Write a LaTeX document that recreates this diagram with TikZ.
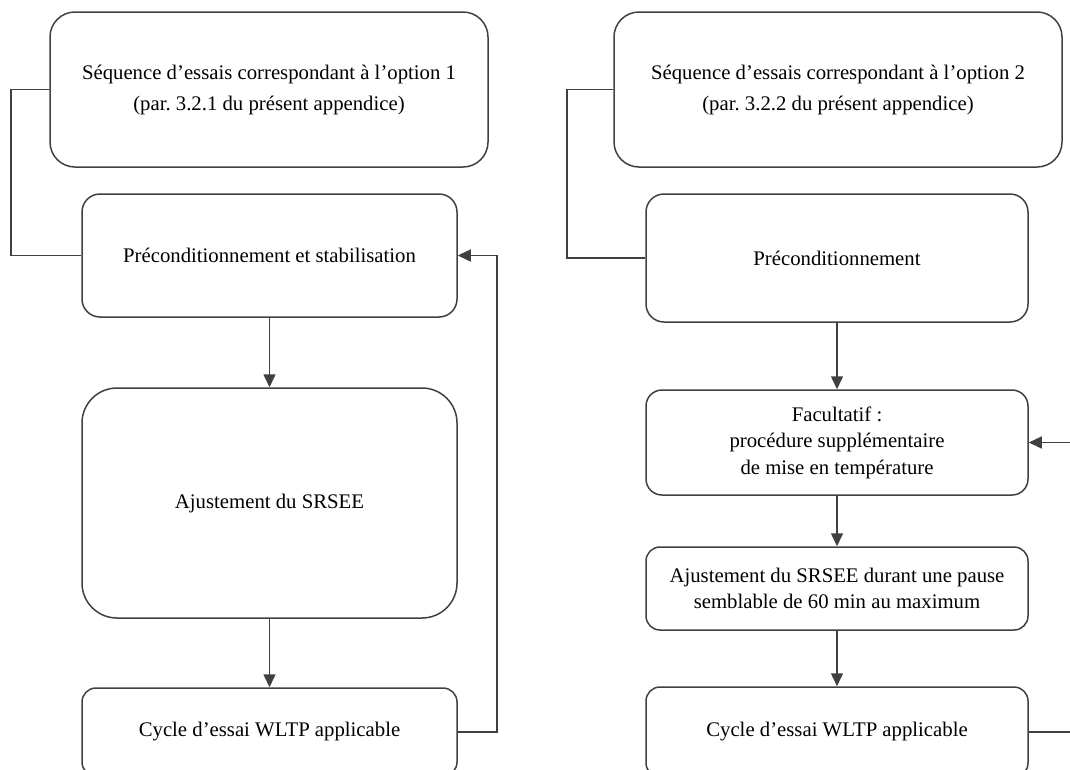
\documentclass[tikz,border=0pt]{standalone}
\usepackage{fontspec}
\setmainfont{Liberation Serif}
\usetikzlibrary{arrows.meta}
\frenchspacing
\begin{document}
\begin{tikzpicture}[x=1pt,y=-1pt,
  box/.style={draw=black!75, line width=1.5pt, align=center, inner sep=0pt, font=\fontsize{20.75}{31}\selectfont},
  tight/.style={font=\fontsize{20.75}{26.5}\selectfont},
  conn/.style={draw=black!75, line width=1.5pt},
  arr/.style={conn, -{Triangle[length=13pt,width=12pt]}}
]
\useasboundingbox (0,0) rectangle (1070,769);
\clip (0,0) rectangle (1070,769);

% left column
\node[box, minimum width=438pt, minimum height=155pt, rounded corners=25pt] (A1) at (269,89.5)
  {Séquence d’essais correspondant à l’option 1\\(par. 3.2.1 du présent appendice)};
\node[box, minimum width=375pt, minimum height=123pt, rounded corners=18pt] (A2) at (269.5,255.5)
  {Préconditionnement et stabilisation};
\node[box, minimum width=375pt, minimum height=230pt, rounded corners=35pt] (A3) at (269.5,503)
  {Ajustement du SRSEE};
\node[box, minimum width=375pt, minimum height=88pt, rounded corners=14pt] (A4) at (269.5,732)
  {Cycle d’essai WLTP applicable};

% right column
\node[box, minimum width=448pt, minimum height=155pt, rounded corners=25pt] (B1) at (838,89.5)
  {Séquence d’essais correspondant à l’option 2\\(par. 3.2.2 du présent appendice)};
\node[box, minimum width=382pt, minimum height=128pt, rounded corners=18pt] (B2) at (837,258)
  {Préconditionnement};
\node[box, tight, minimum width=382pt, minimum height=105pt, rounded corners=16pt] (B3) at (837,442.5)
  {Facultatif~:\\procédure supplémentaire\\de mise en température};
\node[box, tight, minimum width=382pt, minimum height=83pt, rounded corners=14pt] (B4) at (837,588.5)
  {Ajustement du SRSEE durant une pause\\semblable de 60 min au maximum};
\node[box, minimum width=382pt, minimum height=90pt, rounded corners=14pt] (B5) at (837,732)
  {Cycle d’essai WLTP applicable};

% connector helpers
\coordinate (L1) at (11,0);
\coordinate (R1) at (497,0);
\coordinate (L2) at (567,0);
\coordinate (R2) at (1082,0);

% left connectors
\draw[conn] (A1.west) -- (A1.west -| L1) |- (A2.west);
\draw[arr] (A2.south) -- (A3.north);
\draw[arr] (A3.south) -- (A4.north);
\draw[arr] (A4.east) -- (A4.east -| R1) |- (A2.east);

% right connectors
\draw[conn] (B1.west) -- (B1.west -| L2) |- (B2.west);
\draw[arr] (B2.south) -- (B3.north);
\draw[arr] (B3.south) -- (B4.north);
\draw[arr] (B4.south) -- (B5.north);
\draw[arr] (B5.east) -- (B5.east -| R2) |- (B3.east);
\end{tikzpicture}
\end{document}
